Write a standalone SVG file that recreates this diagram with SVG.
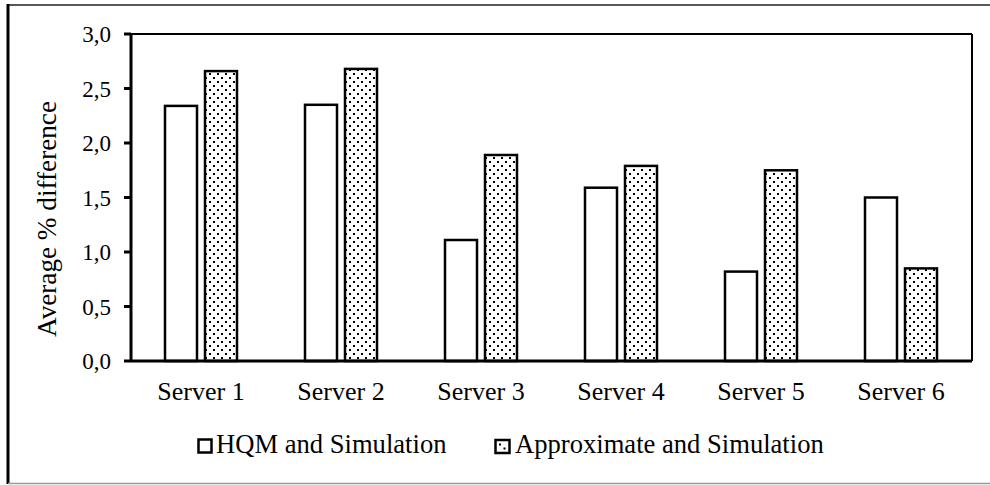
<svg xmlns="http://www.w3.org/2000/svg" width="990" height="485" viewBox="0 0 990 485">
<style>
text{font-family:"Liberation Serif","Times New Roman",serif;fill:#000}
.tick{font-size:23px;text-anchor:end}
.cat{font-size:26px;text-anchor:middle}
.leg{font-size:26.6px}
.bar{stroke:#000;stroke-width:2.5}
.hqm{fill:#fff}
.apx{fill:url(#dots)}
</style>
<defs>
<pattern id="dots" patternUnits="userSpaceOnUse" width="8" height="8">
<rect width="8" height="8" fill="#fff"/>
<rect x="1" y="1" width="2" height="2" fill="#000"/>
<rect x="5" y="5" width="2" height="2" fill="#000"/>
</pattern>
</defs>
<rect width="990" height="485" fill="#fff"/>
<g id="frame">
<line x1="8" y1="5" x2="990" y2="5" stroke="#222" stroke-width="1.5"/>
<line x1="8" y1="4" x2="8" y2="484" stroke="#000" stroke-width="3"/>
<line x1="8" y1="483.5" x2="990" y2="483.5" stroke="#999" stroke-width="1.5"/>
</g>
<g id="plot-area">
<line x1="131" y1="34" x2="972" y2="34" stroke="#000" stroke-width="2"/>
<line x1="972" y1="34" x2="972" y2="361" stroke="#000" stroke-width="2"/>
</g>
<g id="bars">
<rect class="bar hqm" x="165" y="105.9" width="32" height="255.1"/>
<rect class="bar apx" x="205" y="71.1" width="32" height="289.9"/>
<rect class="bar hqm" x="305" y="104.8" width="32" height="256.2"/>
<rect class="bar apx" x="345" y="68.9" width="32" height="292.1"/>
<rect class="bar hqm" x="445" y="240" width="32" height="121"/>
<rect class="bar apx" x="485" y="155" width="32" height="206"/>
<rect class="bar hqm" x="585" y="187.7" width="32" height="173.3"/>
<rect class="bar apx" x="625" y="165.9" width="32" height="195.1"/>
<rect class="bar hqm" x="725" y="271.6" width="32" height="89.4"/>
<rect class="bar apx" x="765" y="170.3" width="32" height="190.7"/>
<rect class="bar hqm" x="865" y="197.5" width="32" height="163.5"/>
<rect class="bar apx" x="905" y="268.4" width="32" height="92.6"/>
</g>
<g id="axes" stroke="#000" stroke-width="3">
<line x1="131" y1="33" x2="131" y2="362"/>
<line x1="124" y1="361" x2="972" y2="361"/>
<line x1="124" y1="34" x2="131" y2="34"/>
<line x1="124" y1="88.5" x2="131" y2="88.5"/>
<line x1="124" y1="143" x2="131" y2="143"/>
<line x1="124" y1="197.5" x2="131" y2="197.5"/>
<line x1="124" y1="252" x2="131" y2="252"/>
<line x1="124" y1="306.5" x2="131" y2="306.5"/>
</g>
<g id="y-labels">
<text class="tick" x="111" y="42">3,0</text>
<text class="tick" x="111" y="96.5">2,5</text>
<text class="tick" x="111" y="151">2,0</text>
<text class="tick" x="111" y="205.5">1,5</text>
<text class="tick" x="111" y="260">1,0</text>
<text class="tick" x="111" y="314.5">0,5</text>
<text class="tick" x="111" y="369">0,0</text>
</g>
<text id="y-title" transform="translate(56,219) rotate(-90)" text-anchor="middle" style="font-size:27.2px">Average % difference</text>
<g id="x-labels">
<text class="cat" x="201" y="400">Server 1</text>
<text class="cat" x="341" y="400">Server 2</text>
<text class="cat" x="481" y="400">Server 3</text>
<text class="cat" x="621" y="400">Server 4</text>
<text class="cat" x="761" y="400">Server 5</text>
<text class="cat" x="901" y="400">Server 6</text>
</g>
<g id="legend">
<rect class="bar hqm" x="198.5" y="439.5" width="13" height="13"/>
<text class="leg" x="216" y="453">HQM and Simulation</text>
<rect class="bar" x="495.5" y="440" width="14" height="13" fill="#fff"/>
<rect x="499" y="443.5" width="2" height="2" fill="#000"/>
<rect x="503.5" y="447.5" width="2" height="2" fill="#000"/>
<text class="leg" x="515" y="453">Approximate and Simulation</text>
</g>
</svg>
